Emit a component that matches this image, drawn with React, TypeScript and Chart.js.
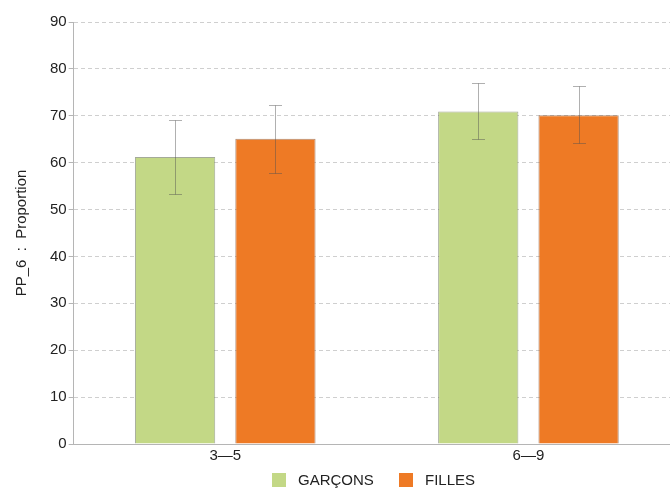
import React, { useEffect, useRef } from "react";
import { Chart, registerables } from "chart.js";

Chart.register(...registerables);

const categories = ["3—5", "6—9"];
const seriesNames = ["GARÇONS", "FILLES"];
const seriesColors = ["#c3d886", "#ee7a25"];
const garconsValues = [61.2, 70.9];
const garconsLow = [53.4, 65.0];
const garconsHigh = [69.0, 76.9];
const fillesValues = [65.1, 70.1];
const fillesLow = [57.9, 64.1];
const fillesHigh = [72.4, 76.3];
const yTicks = [0, 10, 20, 30, 40, 50, 60, 70, 80, 90];

const FONT = "'Liberation Sans', Arial, Helvetica, sans-serif";

// Confidence interval whiskers drawn over each bar
const errorBars = {
  id: "errorBars",
  afterDatasetsDraw(chart: any) {
    const ctx = chart.ctx;
    const y = chart.scales.y;
    chart.data.datasets.forEach((ds: any, di: number) => {
      const meta = chart.getDatasetMeta(di);
      meta.data.forEach((bar: any, i: number) => {
        const lo = Math.round(y.getPixelForValue(ds.errLow[i])) + 0.5;
        const hi = Math.round(y.getPixelForValue(ds.errHigh[i])) + 0.5;
        const x = Math.round(bar.x) + 0.5;
        ctx.save();
        ctx.strokeStyle = "rgba(80,80,80,0.45)";
        ctx.lineWidth = 1;
        ctx.beginPath();
        ctx.moveTo(x, hi);
        ctx.lineTo(x, lo);
        ctx.moveTo(x - 6.5, hi);
        ctx.lineTo(x + 6.5, hi);
        ctx.moveTo(x - 6.5, lo);
        ctx.lineTo(x + 6.5, lo);
        ctx.stroke();
        ctx.restore();
      });
    });
  },
};

const legendPositions = [
  { box: 272, text: 298 },
  { box: 399, text: 425 },
];

export default function App() {
  const ref = useRef<HTMLCanvasElement>(null);

  useEffect(() => {
    if (!ref.current) return;
    const chart = new Chart(ref.current, {
      type: "bar",
      data: {
        labels: categories,
        datasets: [
          {
            label: seriesNames[0],
            data: garconsValues,
            errLow: garconsLow,
            errHigh: garconsHigh,
            backgroundColor: seriesColors[0],
            borderColor: "rgba(90,100,70,0.55)",
            borderWidth: 1,
          } as any,
          {
            label: seriesNames[1],
            data: fillesValues,
            errLow: fillesLow,
            errHigh: fillesHigh,
            backgroundColor: seriesColors[1],
            borderColor: "rgba(120,60,20,0.6)",
            borderWidth: 1,
          } as any,
        ],
      },
      options: {
        animation: false,
        responsive: false,
        maintainAspectRatio: false,
        layout: { padding: { top: 22, right: 0, left: 13, bottom: 20 } },
        datasets: {
          bar: { categoryPercentage: 0.662, barPercentage: 0.8 },
        },
        scales: {
          x: {
            grid: { display: false, drawTicks: false },
            border: { color: "#b5b5b5" },
            ticks: {
              color: "#222",
              font: { family: FONT, size: 15 },
              padding: 3,
            },
          },
          y: {
            min: 0,
            max: 90,
            afterBuildTicks: (axis: any) => {
              axis.ticks = yTicks.map((v) => ({ value: v }));
            },
            grid: {
              color: "#cfcfcf",
              tickColor: "#b5b5b5",
              tickLength: 5,
            },
            border: { color: "#b5b5b5", dash: [4, 3] } as any,
            ticks: {
              color: "#222",
              font: { family: FONT, size: 15 },
              padding: 2,
            },
            title: {
              display: true,
              text: "PP_6  :  Proportion",
              color: "#222",
              font: { family: FONT, size: 15 },
              padding: { top: 0, bottom: 17 },
            },
          },
        },
        plugins: {
          legend: { display: false },
          tooltip: { enabled: false },
        },
      },
      plugins: [errorBars],
    });
    return () => chart.destroy();
  }, []);

  return (
    <div style={{ position: "fixed", left: 0, top: 0, width: 670, height: 488, overflow: "hidden", background: "#fff" }}>
      <canvas ref={ref} width={680} height={488} style={{ width: 680, height: 488, display: "block" }} />
      {seriesNames.map((name, i) => (
        <React.Fragment key={name}>
          <div
            style={{
              position: "absolute",
              left: legendPositions[i].box,
              top: 473,
              width: 14,
              height: 14,
              background: seriesColors[i],
            }}
          />
          <div
            style={{
              position: "absolute",
              left: legendPositions[i].text,
              top: 471,
              fontFamily: FONT,
              fontSize: 15,
              lineHeight: "17px",
              color: "#222",
              whiteSpace: "nowrap",
            }}
          >
            {name}
          </div>
        </React.Fragment>
      ))}
    </div>
  );
}
